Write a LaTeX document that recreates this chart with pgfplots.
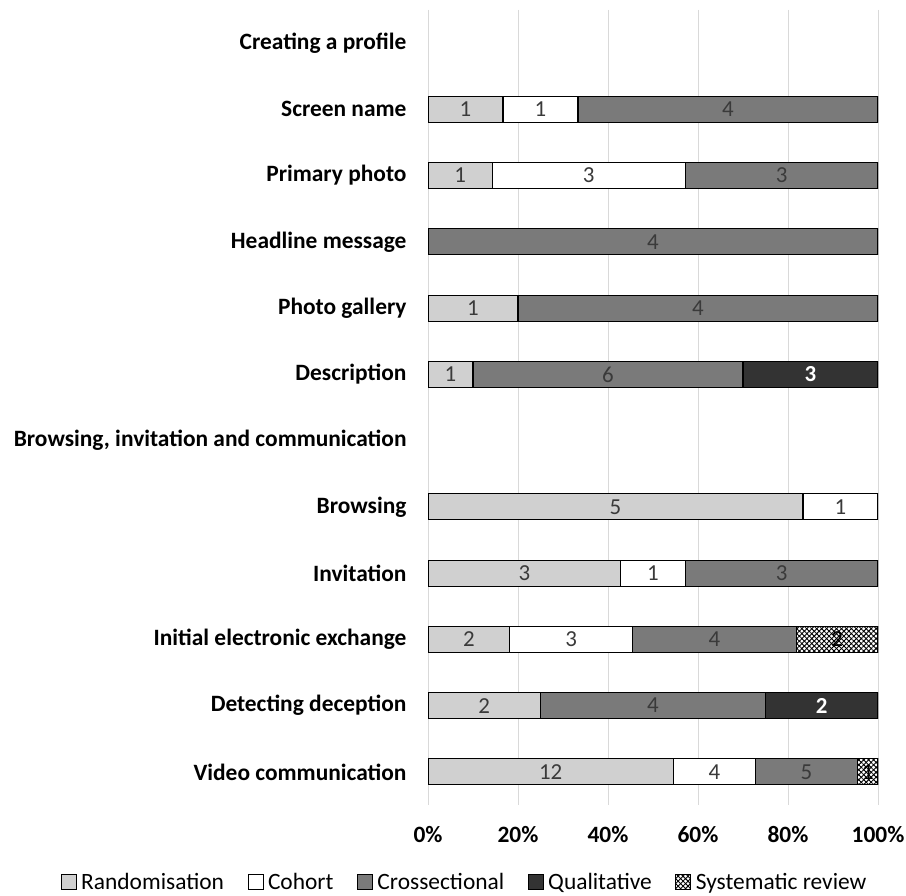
\documentclass[border=0pt]{standalone}
\usepackage{fontspec}
\setmainfont{Carlito}
\usepackage{pgfplots}
\usepackage{pgfplotstable}
\pgfplotsset{compat=1.18}
\usetikzlibrary{patterns,patterns.meta}
\definecolor{rnd}{HTML}{D0D0D0}
\definecolor{crs}{HTML}{7A7A7A}
\definecolor{qual}{HTML}{333333}
\definecolor{txt}{HTML}{3A3A3A}
\definecolor{gridc}{HTML}{D9D9D9}
% shares (percent) of each study type per feature
\pgfplotstableread{
y pR pC pX pQ pS
1 16.667 16.667 66.667 0 0
2 14.286 42.857 42.857 0 0
3 0 0 100 0 0
4 20 0 80 0 0
5 10 0 60 30 0
7 83.333 16.667 0 0 0
8 42.857 14.286 42.857 0 0
9 18.182 27.273 36.364 0 18.182
10 25 0 50 25 0
11 54.545 18.182 22.727 0 4.545
}\data
% counts, placed at the middle of each segment
\pgfplotstableread{
x y n
8.333 1 1
7.143 2 1
10 4 1
5 5 1
41.667 7 5
21.429 8 3
9.091 9 2
12.5 10 2
27.273 11 12
}\labR
\pgfplotstableread{
x y n
25 1 1
35.714 2 3
91.667 7 1
50 8 1
31.818 9 3
63.636 11 4
}\labC
\pgfplotstableread{
x y n
66.667 1 4
78.571 2 3
50 3 4
60 4 4
40 5 6
78.571 8 3
63.636 9 4
50 10 4
84.091 11 5
}\labX
\pgfplotstableread{
x y n
85 5 3
87.5 10 2
}\labQ
\pgfplotstableread{
x y n
90.909 9 2
97.727 11 1
}\labS
\pgfplotsset{
  common/.style={at={(428bp,91bp)}, anchor=south west, scale only axis,
    width=450bp, height=795bp,
    xmin=0, xmax=100, ymin=-0.5, ymax=11.5, y dir=reverse},
}
\begin{document}
\begin{tikzpicture}[x=1bp,y=1bp]
\useasboundingbox (0,0) rectangle (906,896);
\begin{axis}[
  common,
  xbar stacked, bar width=26bp,
  xtick={0,20,...,100},
  xticklabel={\pgfmathprintnumber{\tick}\%},
  ytick={0,...,11},
  yticklabels={Creating a profile,Screen name,Primary photo,Headline message,Photo gallery,Description,{Browsing, invitation and communication},Browsing,Invitation,Initial electronic exchange,Detecting deception,Video communication},
  xmajorgrids, ymajorgrids=false, grid style={gridc, line width=1bp},
  axis line style={draw=none}, major tick length=0,
  tick label style={font=\bfseries\fontsize{23.5}{26}\selectfont},
  xticklabel style={yshift=-18bp},
  yticklabel style={xshift=-18bp},
  /pgf/number format/assume math mode=true,
  every axis plot/.append style={draw=black, line width=1.2bp},
  legend columns=5,
  legend style={at={(0.084,-0.0975)}, anchor=center, draw=none, fill=none,
    font=\fontsize{23.5}{26}\selectfont, nodes={inner sep=4.5bp},
    /tikz/every even column/.append style={column sep=19bp}},
  legend image code/.code={\draw[#1, line width=1bp] (0bp,-7bp) rectangle (15bp,8bp);},
]
\addplot[fill=rnd] table[x=pR, y=y] {\data};
\addlegendentry{Randomisation}
\addplot[fill=white] table[x=pC, y=y] {\data};
\addlegendentry{Cohort}
\addplot[fill=crs] table[x=pX, y=y] {\data};
\addlegendentry{Crossectional}
\addplot[fill=qual] table[x=pQ, y=y] {\data};
\addlegendentry{Qualitative}
\addplot[fill=white, postaction={pattern={Lines[angle=45,distance=3.5bp,line width=0.9bp]}}, postaction={pattern={Lines[angle=-45,distance=3.5bp,line width=0.9bp]}}] table[x=pS, y=y] {\data};
\addlegendentry{Systematic review}
\end{axis}
\begin{axis}[
  common, hide axis, clip=false,
  point meta=explicit symbolic,
  nodes near coords,
  every node near coord/.style={anchor=center, inner sep=0pt, font=\fontsize{23}{26}\selectfont, color=txt},
]
\addplot[only marks, mark=none] table[x=x, y=y, meta=n] {\labR};
\addplot[only marks, mark=none] table[x=x, y=y, meta=n] {\labC};
\addplot[only marks, mark=none] table[x=x, y=y, meta=n] {\labX};
\addplot[only marks, mark=none, every node near coord/.append style={color=white, font=\bfseries\fontsize{23}{26}\selectfont}] table[x=x, y=y, meta=n] {\labQ};
\addplot[only marks, mark=none, every node near coord/.append style={color=black}] table[x=x, y=y, meta=n] {\labS};
\end{axis}
\end{tikzpicture}
\end{document}
